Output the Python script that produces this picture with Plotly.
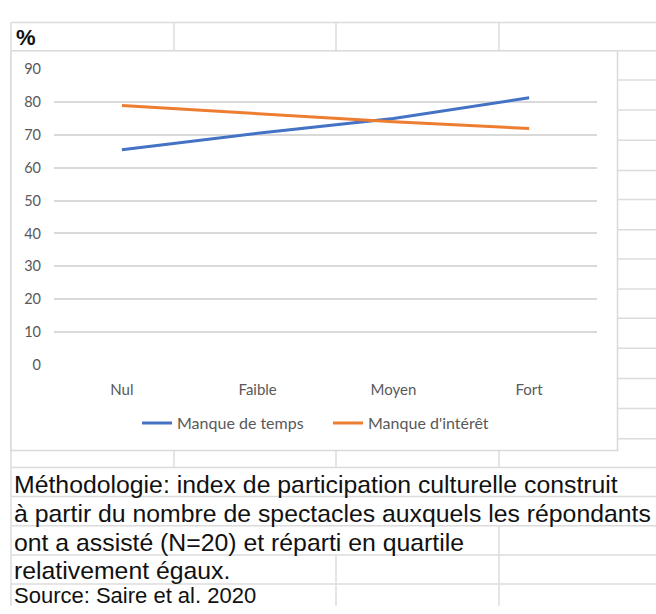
import plotly.graph_objects as go

categories = ["Nul", "Faible", "Moyen", "Fort"]
manque_temps = [65.5, 70.5, 75.0, 81.3]
manque_interet = [79.0, 76.5, 74.0, 72.0]
y_ticks = [0, 10, 20, 30, 40, 50, 60, 70, 80, 90]
notes = [
    "Méthodologie: index de participation culturelle construit",
    "à partir du nombre de spectacles auxquels les répondants",
    "ont a assisté (N=20) et réparti en quartile",
    "relativement égaux.",
    "Source: Saire et al. 2020",
]

W, H = 656, 614
def px(x):
    return x / W
def py(y):
    return 1 - y / H

fig = go.Figure()
fig.add_trace(go.Scatter(x=categories, y=manque_temps, mode="lines", name="Manque de temps",
                         line=dict(color="#4472C4", width=3)))
fig.add_trace(go.Scatter(x=categories, y=manque_interet, mode="lines", name="Manque d'intérêt",
                         line=dict(color="#ED7D31", width=3)))

cell = "#DCDCDC"
shapes = []
def hline(y, x0, x1):
    shapes.append(dict(type="line", xref="paper", yref="paper", x0=px(x0), x1=px(x1), y0=py(y), y1=py(y),
                       line=dict(color=cell, width=1.5), layer="below"))
def vline(x, y0, y1):
    shapes.append(dict(type="line", xref="paper", yref="paper", x0=px(x), x1=px(x), y0=py(y0), y1=py(y1),
                       line=dict(color=cell, width=1.5), layer="below"))

# spreadsheet grid
hline(14, 11, 656)
hline(43, 11, 656)
for x in (174, 336, 499):
    vline(x, 14, 43)
vline(11, 14, 614)
for y in (73, 104, 135, 166, 196, 227, 257, 288, 318, 349, 380, 411, 442):
    hline(y, 617, 656)
for y in (471.5, 501.5, 531.5, 561.5, 591.5):
    hline(y, 11, 656)
for x in (174, 336, 499):
    vline(x, 454, 471.5)
vline(499, 531.5, 614)
vline(336, 561.5, 614)
# chart area
shapes.append(dict(type="rect", xref="paper", yref="paper", x0=px(11), x1=px(617.5), y0=py(454), y1=py(43),
                   fillcolor="white", line=dict(color="#D9D9D9", width=1.5), layer="below"))

annotations = [dict(text="<b>%</b>", xref="paper", yref="paper", x=px(14), y=py(29), xanchor="left",
                    yanchor="middle", showarrow=False, font=dict(family="Liberation Sans", size=22, color="#111"))]
row_centers = [489, 519, 549, 578, 603]
row_sizes = [24.8, 24.8, 24.8, 24.8, 22]
for t, yc, fs in zip(notes, row_centers, row_sizes):
    annotations.append(dict(text=t, xref="paper", yref="paper", x=px(12), y=py(yc), xanchor="left",
                            yanchor="middle", showarrow=False,
                            font=dict(family="Liberation Sans", size=fs, color="#111")))

fig.update_layout(
    width=W, height=H, margin=dict(l=0, r=0, t=0, b=0),
    paper_bgcolor="white", plot_bgcolor="rgba(0,0,0,0)",
    shapes=shapes, annotations=annotations,
    xaxis=dict(domain=[px(54), px(597)], range=[-0.5, 3.5], type="category", showgrid=False,
               showline=False, ticks="", tickfont=dict(family="Lato", size=15, color="#595959"),
               ticklabelstandoff=14),
    yaxis=dict(domain=[py(366), py(62)], range=[0, 90], tickvals=y_ticks, showgrid=True,
               gridcolor="#D9D9D9", gridwidth=1.5, zeroline=False, showline=False, ticks="",
               tickfont=dict(family="Lato", size=14.5, color="#595959"), ticklabelstandoff=12),
    legend=dict(orientation="h", x=px(137), xanchor="left", y=py(426), yanchor="middle",
                font=dict(family="Lato", size=16, color="#595959"), bgcolor="rgba(0,0,0,0)",
                itemwidth=30, entrywidth=146, entrywidthmode="pixels", tracegroupgap=0),
    showlegend=True,
)

fig.write_html("out.html", config={"displayModeBar": False},
               post_script="document.body.style.margin='0';document.body.style.overflow='hidden';")
